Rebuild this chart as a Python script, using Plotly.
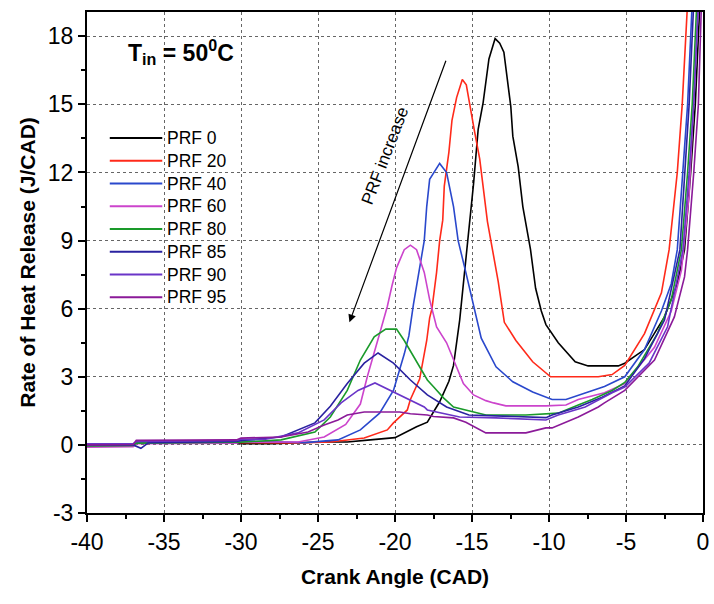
import plotly.graph_objects as go

# ---- data ----
series_names = ["PRF 0", "PRF 20", "PRF 40", "PRF 60", "PRF 80", "PRF 85", "PRF 90", "PRF 95"]
series_colors = ["#000000", "#ff2a1a", "#2a48cc", "#cc44cc", "#1a9a2a", "#2a22a0", "#6a35c8", "#8b1a99"]

x_prf0 = [-40, -37, -36.9, -30.3, -30, -28, -24.8, -23.1, -21.6, -20, -18.6, -17.9, -17.1, -16.5, -16.2, -15.8, -15.5,
          -15.2, -14.9, -14.6, -14.28, -13.9, -13.5, -13.2, -12.93, -12.48, -12.35, -12.0, -11.7, -11.2, -10.87,
          -10.5, -10.2, -9.4, -8.3, -7.46, -5.5, -5.08, -3.8, -2.5, -1.67, -1.2, -0.8, -0.5, -0.2]
y_prf0 = [-0.05, -0.03, 0.08, 0.1, 0.05, 0.05, 0.13, 0.13, 0.22, 0.32, 0.8, 1.0, 1.9, 2.8, 3.5, 5.5, 7.5,
          9.5, 11.5, 13.9, 15.07, 17.0, 17.9, 17.7, 17.3, 14.9, 13.6, 12.25, 10.5, 8.6, 6.9,
          5.9, 5.3, 4.5, 3.66, 3.48, 3.48, 3.6, 4.2, 5.64, 7.1, 8.6, 12, 15, 19.5]

x_prf20 = [-40, -37, -36.8, -30.3, -30, -26.3, -24.2, -22, -20.5, -20.1, -19.2, -19.0, -18.4, -17.94, -17.75,
           -17.6, -17.3, -17.1, -16.9, -16.8, -16.5, -16.3, -16.0, -15.63, -15.37, -15.18, -14.86, -14.5, -14.3,
           -14.0, -13.3, -12.9, -12.15, -11.06, -9.9, -6.8, -5.9, -5.08, -3.8, -2.7, -2.2, -1.67, -1.35, -1.0]
y_prf20 = [0.0, 0.02, 0.12, 0.15, 0.1, 0.09, 0.13, 0.3, 0.66, 0.97, 1.54, 2.0, 2.9, 4.6, 5.6,
           6.0, 7.6, 9.0, 9.9, 11.4, 12.9, 14.3, 15.3, 16.1, 15.86, 15.07, 13.9, 12.6, 11.4,
           9.85, 7.2, 5.4, 4.6, 3.66, 3.0, 3.0, 3.1, 3.5, 4.9, 6.7, 8.6, 12, 15, 19.5]

x_prf40 = [-40, -37, -36.8, -30.3, -30, -25.85, -23.7, -22.25, -21.0, -20.1, -19.4, -19.1, -18.8, -18.46,
           -18.1, -17.94, -17.75, -17.1, -16.65, -16.2, -15.9, -15.4, -14.9, -14.4, -13.44, -12.35, -11.06,
           -9.8, -8.9, -7.65, -6.4, -5.08, -3.8, -2.7, -2.06, -1.67, -1.3, -1.0, -0.7]
y_prf40 = [-0.05, 0.0, 0.1, 0.12, 0.18, 0.1, 0.22, 0.66, 1.4, 2.4, 4.0, 4.8, 6.2, 7.6,
           9.0, 10.5, 11.7, 12.4, 12.0, 10.5, 9.0, 7.6, 6.1, 4.7, 3.44, 2.78, 2.33,
           2.0, 2.0, 2.3, 2.57, 3.0, 4.2, 5.9, 7.1, 8.6, 12, 15, 19.5]

x_prf60 = [-40, -37, -36.8, -30.3, -30, -26.3, -24.6, -23.2, -22.25, -21.8, -21.0, -20.5, -20.2, -19.9, -19.4,
           -19.0, -18.6, -18.1, -17.75, -17.3, -16.65, -15.8, -15.56, -14.9, -14.1, -13.6, -12.8, -10.2,
           -8.9, -8.1, -6.4, -5.08, -3.15, -2.06, -1.4, -0.9, -0.6, -0.3]
y_prf60 = [-0.1, -0.08, 0.05, 0.08, 0.12, 0.13, 0.35, 0.9, 1.8, 3.0, 4.9, 6.1, 7.0, 7.8, 8.6,
           8.8, 8.6, 7.6, 6.4, 5.2, 4.5, 3.1, 2.7, 2.2, 1.95, 1.85, 1.72, 1.72,
           1.76, 2.0, 2.3, 2.7, 4.3, 5.9, 7.7, 11, 15, 19.5]

x_prf80 = [-40, -37, -36.8, -30.3, -30, -27.4, -25.2, -24.2, -23.1, -22.25, -21.35, -20.6, -19.9, -19.4,
           -18.6, -17.9, -17.5, -16.85, -16.2, -15.8, -14.5, -14.1, -11.5, -10.2, -9.4, -8.1, -7.2, -5.9,
           -5.08, -4.24, -2.96, -2.06, -1.4, -1.0, -0.7, -0.4]
y_prf80 = [-0.05, -0.02, 0.08, 0.1, 0.12, 0.22, 0.57, 1.23, 2.4, 3.74, 4.76, 5.1, 5.1, 4.6,
           3.7, 2.86, 2.56, 2.07, 1.67, 1.6, 1.4, 1.32, 1.32, 1.38, 1.4, 1.76, 2.0, 2.4,
           2.75, 3.44, 4.9, 6.4, 8.6, 12, 15, 19.5]

x_prf85 = [-40, -37, -36.5, -36, -30.3, -30, -27.4, -25.2, -24.2, -23.1, -22.0, -21.1, -20.1, -19.0, -17.9,
           -16.65, -15.2, -14.5, -11.5, -10.2, -9.8, -8.1, -6.55, -5.08, -3.8, -2.5, -1.5, -1.2, -0.9, -0.6]
y_prf85 = [0.0, 0.0, -0.15, 0.1, 0.15, 0.2, 0.35, 0.97, 1.7, 2.7, 3.6, 4.05, 3.6, 2.86, 2.2,
           1.67, 1.32, 1.3, 1.23, 1.2, 1.32, 1.67, 2.1, 2.6, 3.8, 5.5, 8.6, 12, 15, 19.5]

x_prf90 = [-40, -37, -36.8, -30.3, -30, -28.4, -26.3, -24.6, -23.5, -22.4, -21.3, -20.3, -19.4, -18.1, -17.9,
           -16.2, -15.8, -13.44, -11.5, -10.2, -9.4, -7.65, -5.9, -5.08, -3.5, -2.3, -1.3, -0.9, -0.6, -0.3]
y_prf90 = [0.05, 0.05, 0.15, 0.2, 0.25, 0.25, 0.53, 1.1, 1.85, 2.4, 2.73, 2.4, 2.1, 1.67, 1.54,
           1.3, 1.23, 1.19, 1.15, 1.1, 1.32, 1.67, 2.3, 2.55, 3.6, 5.2, 8.6, 12, 15, 19.5]

x_prf95 = [-40, -37, -36.8, -30.3, -30, -27.4, -25.65, -24.6, -23.7, -23.1, -22.0, -19.7, -19.0, -17.9,
           -17.5, -16.65, -16.2, -15.4, -14.1, -11.5, -10.2, -9.8, -8.5, -8.1, -6.8, -6.4, -5.08, -3.15,
           -1.86, -1.2, -1.0, -0.6, -0.3, -0.1]
y_prf95 = [0.0, 0.02, 0.2, 0.22, 0.3, 0.35, 0.57, 0.88, 1.1, 1.32, 1.45, 1.45, 1.37, 1.32,
           1.25, 1.22, 1.19, 1.0, 0.53, 0.53, 0.75, 0.75, 1.1, 1.23, 1.67, 1.85, 2.4, 3.74,
           5.64, 7.4, 8.6, 12, 15, 19.5]

xs = [x_prf0, x_prf20, x_prf40, x_prf60, x_prf80, x_prf85, x_prf90, x_prf95]
ys = [y_prf0, y_prf20, y_prf40, y_prf60, y_prf80, y_prf85, y_prf90, y_prf95]

x_ticks = [-40, -35, -30, -25, -20, -15, -10, -5, 0]
x_tick_labels = ["-40", "-35", "-30", "-25", "-20", "-15", "-10", "-5", "0"]
y_ticks = [-3, 0, 3, 6, 9, 12, 15, 18]
y_tick_labels = ["-3", "0", "3", "6", "9", "12", "15", "18"]

FONT = "Arial, Liberation Sans, sans-serif"

fig = go.Figure()
for name, color, x, y in zip(series_names, series_colors, xs, ys):
    fig.add_trace(go.Scatter(x=x, y=y, mode="lines", name=name, showlegend=False,
                             line=dict(color=color, width=1.6)))

axis_common = dict(
    showline=True, linecolor="black", linewidth=2, mirror=True,
    ticks="outside", ticklen=7, tickwidth=1.5, tickcolor="black",
    showgrid=True, gridcolor="#666666", gridwidth=1, griddash="3px,3px",
    zeroline=False,
    tickfont=dict(family=FONT, size=23, color="black"),
    minor=dict(ticks="outside", ticklen=4, tickwidth=1.5, tickcolor="black", showgrid=False),
)

fig.update_xaxes(range=[-40, 0], tickvals=x_ticks, ticktext=x_tick_labels, minor_dtick=2.5, minor_tick0=0,
                 title=dict(text="<b>Crank Angle (CAD)</b>", font=dict(family=FONT, size=21, color="black"),
                            standoff=16),
                 **axis_common)
fig.update_yaxes(range=[-3, 19.07], tickvals=y_ticks, ticktext=y_tick_labels, minor_dtick=1.5, minor_tick0=0,
                 title=dict(text="<b>Rate of Heat Release (J/CAD)</b>", font=dict(family=FONT, size=21, color="black"),
                            standoff=6),
                 **axis_common)

fig.add_annotation(x=0.153, y=0.92, xref="paper", yref="paper", showarrow=False,
                   text="<b>T<sub>in</sub> = 50<sup>0</sup>C</b>",
                   font=dict(family=FONT, size=23, color="black"), xanchor="center", yanchor="middle")

# arrow "PRF increase"
fig.add_annotation(x=-22.96, y=5.40, ax=-16.66, ay=16.99, xref="x", yref="y", axref="x", ayref="y",
                   showarrow=True, arrowhead=2, arrowsize=1.3, arrowwidth=1.2, arrowcolor="black", text="")
fig.add_annotation(x=-20.62, y=12.73, xref="x", yref="y", showarrow=False, text="PRF increase",
                   textangle=-69, font=dict(family=FONT, size=17, color="black"))

# legend: key lines + one multi-line label block (paper coordinates)
plot_l, plot_r, plot_t, plot_b = 87, 709, 12, 513
pw, ph = plot_r - plot_l, plot_b - plot_t
LEG_FONT = 17.5
leg_dy = LEG_FONT * 1.3
leg_x0, leg_x1, leg_tx, leg_y0 = 110, 163, 167, 138
n = len(series_names)
for i, color in enumerate(series_colors):
    yp = (plot_b - (leg_y0 + i * leg_dy)) / ph
    fig.add_shape(type="line", xref="paper", yref="paper",
                  x0=(leg_x0 - plot_l) / pw, x1=(leg_x1 - plot_l) / pw, y0=yp, y1=yp,
                  line=dict(color=color, width=1.8))
leg_mid = leg_y0 + (n - 1) * leg_dy / 2
fig.add_annotation(x=(leg_tx - plot_l) / pw, y=(plot_b - leg_mid) / ph, xref="paper", yref="paper",
                   showarrow=False, text="<br>".join(series_names), align="left",
                   xanchor="left", yanchor="middle", borderpad=0,
                   font=dict(family=FONT, size=LEG_FONT, color="black"))

fig.update_layout(
    width=714, height=604,
    margin=dict(l=plot_l, r=714 - plot_r, t=plot_t, b=604 - plot_b),
    paper_bgcolor="white", plot_bgcolor="white",
    font=dict(family=FONT, color="black"),
    showlegend=False,
)

fig.write_html("out.html")
